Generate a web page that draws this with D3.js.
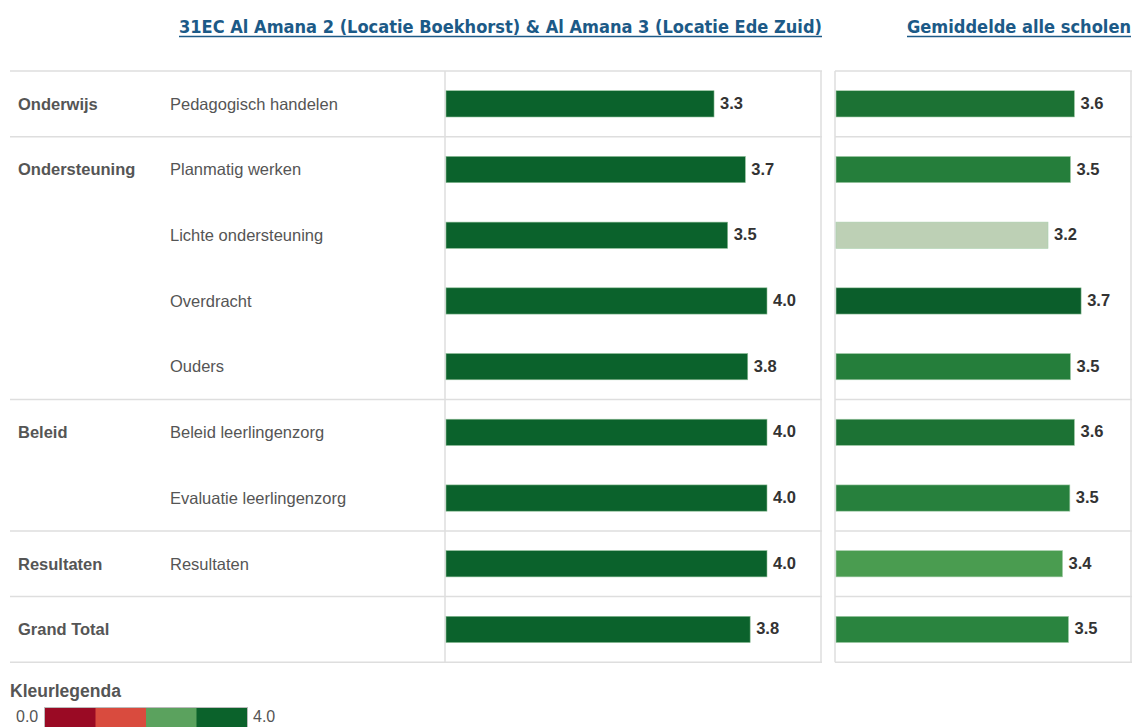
<!DOCTYPE html>
<html>
<head>
<meta charset="utf-8">
<script src="https://cdn.jsdelivr.net/npm/d3@7"></script>
<style>
  body { margin: 0; background: #fff; }
  svg { display: block; }
</style>
</head>
<body>
<div id="chart"></div>
<script>
// data
const groups = ["Onderwijs", "Ondersteuning", "", "", "", "Beleid", "", "Resultaten", "Grand Total"];
const items = ["Pedagogisch handelen", "Planmatig werken", "Lichte ondersteuning", "Overdracht",
    "Ouders", "Beleid leerlingenzorg", "Evaluatie leerlingenzorg", "Resultaten", ""];
const schoolValues = [3.34, 3.73, 3.51, 4.0, 3.76, 4.0, 4.0, 4.0, 3.79];
const avgValues = [3.60, 3.54, 3.20, 3.70, 3.54, 3.60, 3.53, 3.42, 3.51];
const groupBreaks = [0, 1, 5, 7, 8, 9]; // row index where each block starts
const legendTicks = ["0.0", "4.0"];
const legendColors = ["#9a0a24", "#d94b3e", "#5ba25e", "#0b622b"];
const titleLeft = "31EC Al Amana 2 (Locatie Boekhorst) & Al Amana 3 (Locatie Ede Zuid)";
const titleRight = "Gemiddelde alle scholen";

const W = 1134, H = 727;
const topY = 71, rowH = 65.7;
const gridColor = "#dedede";
const textColor = "#555";
const font = "'Liberation Sans', Arial, sans-serif";

const svg = d3.select("#chart").append("svg")
    .attr("width", W)
    .attr("height", H);

const y = d3.scaleBand()
    .domain(d3.range(items.length))
    .range([topY, topY + rowH * items.length])
    .paddingInner(0.6).paddingOuter(0.3);

const xL = d3.scaleLinear().domain([0, 4]).range([446, 767]);
const xR = d3.scaleLinear().domain([0, 4]).range([836, 1101]);

const avgColor = d3.scaleLinear()
    .domain([3.2, 3.42, 3.51, 3.6, 3.7])
    .range(["#bdd0b5", "#4a9c50", "#2a843f", "#1c7234", "#0b5e2b"])
    .clamp(true);

// titles
function title(txt, x, len) {
    svg.append("text")
        .attr("x", x).attr("y", 33)
        .attr("textLength", len).attr("lengthAdjust", "spacingAndGlyphs")
        .style("font-family", "'DejaVu Sans Condensed', 'DejaVu Sans', sans-serif")
        .style("font-size", "18px")
        .style("font-weight", "bold")
        .style("fill", "#1c5a87")
        .text(txt);
    svg.append("line")
        .attr("x1", x).attr("x2", x + len)
        .attr("y1", 36.5).attr("y2", 36.5)
        .attr("stroke", "#1c5a87").attr("stroke-width", 1.4);
}
title(titleLeft, 179, 643);
title(titleRight, 907, 224);

// grid lines
const rowY = i => topY + i * rowH;
groupBreaks.forEach(b => {
    svg.append("line")
        .attr("x1", 10).attr("x2", 822)
        .attr("y1", rowY(b)).attr("y2", rowY(b))
        .attr("stroke", gridColor).attr("stroke-width", 1.5);
    svg.append("line")
        .attr("x1", 835).attr("x2", 1132)
        .attr("y1", rowY(b)).attr("y2", rowY(b))
        .attr("stroke", gridColor).attr("stroke-width", 1.5);
});
[445, 821, 835, 1131].forEach(x => {
    svg.append("line")
        .attr("x1", x).attr("x2", x)
        .attr("y1", topY).attr("y2", rowY(items.length))
        .attr("stroke", gridColor).attr("stroke-width", 1.5);
});

// row labels
const rows = svg.append("g").selectAll("g")
    .data(items.map((d, i) => ({ item: d, group: groups[i], a: schoolValues[i], b: avgValues[i], i })))
    .join("g");

rows.append("text")
    .attr("x", 18)
    .attr("y", d => y(d.i) + y.bandwidth() / 2)
    .attr("dy", "0.35em")
    .style("font-family", font)
    .style("font-size", "16.5px")
    .style("font-weight", "bold")
    .style("fill", textColor)
    .text(d => d.group);

rows.append("text")
    .attr("x", 170)
    .attr("y", d => y(d.i) + y.bandwidth() / 2)
    .attr("dy", "0.35em")
    .style("font-family", font)
    .style("font-size", "16.5px")
    .style("fill", textColor)
    .text(d => d.item);

// bars - school
rows.append("rect")
    .attr("x", xL(0))
    .attr("y", d => y(d.i))
    .attr("width", d => xL(d.a) - xL(0))
    .attr("height", y.bandwidth())
    .attr("fill", "#0b622c")
    .attr("stroke", "#8fbf98").attr("stroke-width", 0.6);

rows.append("text")
    .attr("x", d => xL(d.a) + 6)
    .attr("y", d => y(d.i) + y.bandwidth() / 2)
    .attr("dy", "0.3em")
    .style("font-family", font)
    .style("font-size", "16.5px")
    .style("font-weight", "bold")
    .style("fill", "#333")
    .text(d => d3.format(".1f")(d.a));

// bars - average
rows.append("rect")
    .attr("x", xR(0))
    .attr("y", d => y(d.i))
    .attr("width", d => xR(d.b) - xR(0))
    .attr("height", y.bandwidth())
    .attr("fill", d => avgColor(d.b))
    .attr("stroke", "#a9cfae").attr("stroke-width", 0.6);

rows.append("text")
    .attr("x", d => xR(d.b) + 6)
    .attr("y", d => y(d.i) + y.bandwidth() / 2)
    .attr("dy", "0.3em")
    .style("font-family", font)
    .style("font-size", "16.5px")
    .style("font-weight", "bold")
    .style("fill", "#333")
    .text(d => d3.format(".1f")(d.b));

// legend
svg.append("text")
    .attr("x", 10).attr("y", 697)
    .style("font-family", font)
    .style("font-size", "17.5px")
    .style("font-weight", "bold")
    .style("fill", textColor)
    .text("Kleurlegenda");

const lx = d3.scaleBand().domain(d3.range(legendColors.length)).range([45, 247]);
svg.append("g").selectAll("rect")
    .data(legendColors)
    .join("rect")
    .attr("x", (d, i) => lx(i))
    .attr("y", 708)
    .attr("width", lx.bandwidth() + 0.5)
    .attr("height", 22)
    .attr("fill", d => d);
svg.append("rect")
    .attr("x", 44.5).attr("y", 707.5)
    .attr("width", 203).attr("height", 22)
    .attr("fill", "none").attr("stroke", "#bbb");

svg.append("text")
    .attr("x", 16).attr("y", 722)
    .style("font-family", font)
    .style("font-size", "16px")
    .style("fill", textColor)
    .text(legendTicks[0]);
svg.append("text")
    .attr("x", 253).attr("y", 722)
    .style("font-family", font)
    .style("font-size", "16px")
    .style("fill", textColor)
    .text(legendTicks[1]);
</script>
</body>
</html>
